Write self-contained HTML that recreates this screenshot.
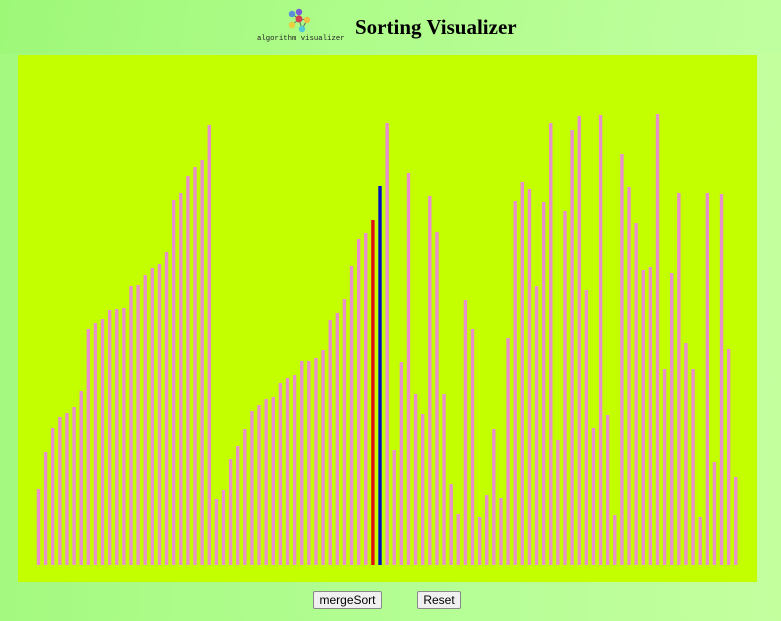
<!DOCTYPE html>
<html><head><meta charset="utf-8"><style>
body{margin:0;width:781px;height:621px;overflow:hidden;background:linear-gradient(90deg,#a4fa80,#b6fe96 60%,#c4ff9e);font-family:"Liberation Sans",sans-serif;position:relative}
#header{position:absolute;left:0;top:0;width:781px;height:54px;background:linear-gradient(100deg,#9ef878,#b0fc8c 50%,#c0ffa0)}
#title{position:absolute;left:355px;top:15px;font-family:"Liberation Serif",serif;font-weight:bold;font-size:21px;color:#000}
#logo-text{position:absolute;left:257px;top:35px;font-family:"Liberation Mono",monospace;font-size:7.3px;color:#222}
#chart{position:absolute;left:18px;top:55px;width:739px;height:527px;background:#c4ff00}
.btn{position:absolute;top:591px;height:18px;font-size:12px;background:#f0f0f0;border:1px solid #888;border-radius:2px;padding:0;font-family:"Liberation Sans",sans-serif}
</style></head><body>
<div id="header">
<svg style="position:absolute;left:286px;top:8px" width="28" height="27" viewBox="0 0 28 27">
<g stroke="#555" stroke-width="0.8"><line x1="6" y1="6" x2="13" y2="11"/><line x1="13" y1="4" x2="13" y2="11"/><line x1="13" y1="11" x2="21" y2="12"/><line x1="13" y1="11" x2="6" y2="17"/><line x1="13" y1="11" x2="16" y2="21"/><line x1="21" y1="12" x2="16" y2="21"/></g>
<circle cx="6" cy="6" r="3.2" fill="#5a8fd8"/><circle cx="13" cy="4" r="3.2" fill="#7a5ad8"/><circle cx="13" cy="11" r="3.5" fill="#d84050"/><circle cx="21" cy="12" r="3.2" fill="#f0c040"/><circle cx="6" cy="17" r="3.2" fill="#e8d040"/><circle cx="16" cy="21" r="3.2" fill="#50c8d8"/>
</svg>
<div id="logo-text">algorithm visualizer</div>
<div id="title">Sorting Visualizer</div>
</div>
<div id="chart">
<svg id="svg" width="739" height="527"></svg>
</div>
<button class="btn" style="left:313px;width:69px">mergeSort</button>
<button class="btn" style="left:417px;width:44px">Reset</button>
<script>
const values=[76,113,137,148,152,158,174,236,242,246,255,256,257,279,280,290,297,301,313,365,372,389,398,405,440,66,75,106,119,136,154,160,166,168,182,187,190,204,204,207,215,245,252,266,299,326,332,345,379,442,115,203,392,171,151,369,333,171,81,51,265,236,48,70,136,67,227,364,383,376,279,363,442,125,354,435,449,275,137,450,150,50,411,378,342,295,298,451,196,292,372,222,196,48,372,103,371,216,88];
const activeRed=47;
const activeBlue=48;
const svg=document.getElementById('svg');
const ns='http://www.w3.org/2000/svg';
const baseY=510, x0=18.8, step=7.115, bw=3.4;
function xPos(i){return x0+i*step;}
function yPos(v){return baseY-v;}
values.forEach((v,i)=>{
 const r=document.createElementNS(ns,'rect');
 r.setAttribute('x',xPos(i));
 r.setAttribute('y',yPos(v));
 r.setAttribute('width',bw);
 r.setAttribute('height',baseY-yPos(v));
 r.setAttribute('fill',i===activeRed?'#e01010':i===activeBlue?'#0010c0':'#e890cc');
 
 
 svg.appendChild(r);
});
</script>
</body></html>
